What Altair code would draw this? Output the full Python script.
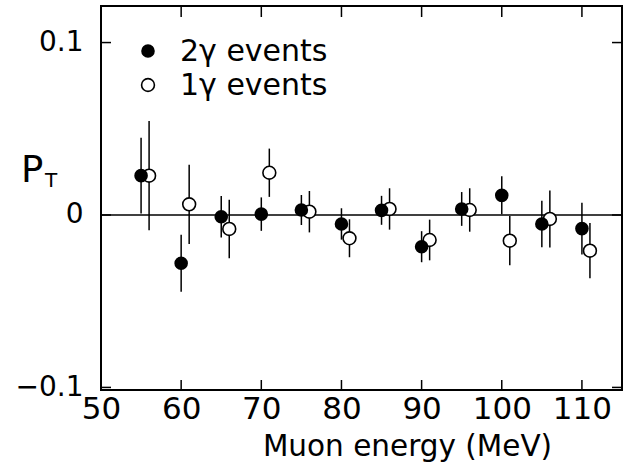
import altair as alt
import pandas as pd

# ---- data ----
energy_2g = [55, 60, 65, 70, 75, 80, 85, 90, 95, 100, 105, 110]
pt_2g = [0.0228, -0.0280, -0.0010, 0.0005, 0.0029, -0.0052, 0.0027, -0.0184, 0.0035, 0.0114, -0.0052, -0.0079]
err_2g = [0.0220, 0.0165, 0.0120, 0.0097, 0.0087, 0.0091, 0.0084, 0.0090, 0.0098, 0.0110, 0.0135, 0.0150]

energy_1g = [56, 61, 66, 71, 76, 81, 86, 91, 96, 101, 106, 111]
pt_1g = [0.0228, 0.0062, -0.0081, 0.0245, 0.0019, -0.0135, 0.0035, -0.0145, 0.0029, -0.0149, -0.0023, -0.0207]
err_1g = [0.0317, 0.0230, 0.0170, 0.0140, 0.0120, 0.0110, 0.0120, 0.0118, 0.0126, 0.0143, 0.0165, 0.0160]

x_ticks = [50, 60, 70, 80, 90, 100, 110]
y_ticks = [-0.1, 0.0, 0.1]
legend_labels = ["2\u03b3 events", "1\u03b3 events"]
x_title = "Muon energy (MeV)"
y_title_main = "P"
y_title_sub = "T"

FONT = "DejaVu Sans"
W, H = 521, 384

df2 = pd.DataFrame({"energy": energy_2g, "pt": pt_2g})
df2["lo"] = df2["pt"] - pd.Series(err_2g)
df2["hi"] = df2["pt"] + pd.Series(err_2g)
df1 = pd.DataFrame({"energy": energy_1g, "pt": pt_1g})
df1["lo"] = df1["pt"] - pd.Series(err_1g)
df1["hi"] = df1["pt"] + pd.Series(err_1g)

xs = alt.Scale(domain=[50, 115], nice=False, zero=False)
ys = alt.Scale(domain=[-0.1015, 0.1212], nice=False, zero=False)

x_axis = alt.Axis(values=x_ticks, domain=False, ticks=False, grid=False,
                  labelFontSize=31, labelPadding=4, labelFont=FONT,
                  labelFlush=False, labelOverlap=False,
                  title=x_title, titleFontSize=29.5, titleFont=FONT,
                  titleFontWeight="normal", titleX=306, titleY=65,
                  titleAlign="center", titleBaseline="alphabetic")
y_axis = alt.Axis(values=y_ticks, domain=False, ticks=False, grid=False,
                  labelFontSize=28, labelPadding=18, labelFont=FONT,
                  labelFlush=False, labelOverlap=False,
                  labelExpr="datum.value == 0 ? '0' : format(datum.value, '.1f')",
                  title=None)

def X(field):
    return alt.X(field, type="quantitative", scale=xs, axis=x_axis, title=x_title)

def Y(field):
    return alt.Y(field, type="quantitative", scale=ys, axis=y_axis)

zero_line = alt.Chart(pd.DataFrame({"z": [0.0]})).mark_rule(
    color="black", strokeWidth=1.5).encode(y=Y("z"))

bars2 = alt.Chart(df2).mark_rule(color="black", strokeWidth=1.5).encode(
    x=X("energy"), y=Y("lo"), y2="hi")
bars1 = alt.Chart(df1).mark_rule(color="black", strokeWidth=1.5).encode(
    x=X("energy"), y=Y("lo"), y2="hi")

pts1 = alt.Chart(df1).mark_circle(size=165, fill="white", stroke="black",
                                  strokeWidth=1.6, opacity=1).encode(
    x=X("energy"), y=Y("pt"))
pts2 = alt.Chart(df2).mark_circle(size=185, color="black", opacity=1).encode(
    x=X("energy"), y=Y("pt"))

# inward ticks on all four sides
xt = pd.DataFrame({"v": x_ticks})
yt = pd.DataFrame({"v": y_ticks})
tick_b = alt.Chart(xt).mark_rule(color="black", strokeWidth=1.5).encode(
    x=X("v"), y=alt.value(H), y2=alt.value(H - 10))
tick_t = alt.Chart(xt).mark_rule(color="black", strokeWidth=1.5).encode(
    x=X("v"), y=alt.value(0), y2=alt.value(11))
tick_l = alt.Chart(yt).mark_rule(color="black", strokeWidth=1.5).encode(
    y=Y("v"), x=alt.value(0), x2=alt.value(10))
tick_r = alt.Chart(yt).mark_rule(color="black", strokeWidth=1.5).encode(
    y=Y("v"), x=alt.value(W), x2=alt.value(W - 10))

# legend (inside, top-left)
leg_fill = alt.Chart(pd.DataFrame({"label": [legend_labels[0]]})).mark_circle(
    size=185, color="black", opacity=1).encode(x=alt.value(47), y=alt.value(45))
leg_open = alt.Chart(pd.DataFrame({"label": [legend_labels[1]]})).mark_circle(
    size=165, fill="white", stroke="black", strokeWidth=1.6, opacity=1).encode(
    x=alt.value(47), y=alt.value(79))
leg_t1 = alt.Chart(pd.DataFrame({"label": [legend_labels[0]]})).mark_text(
    align="left", baseline="middle", fontSize=30, font=FONT, color="black").encode(
    text="label:N", x=alt.value(79), y=alt.value(46))
leg_t2 = alt.Chart(pd.DataFrame({"label": [legend_labels[1]]})).mark_text(
    align="left", baseline="middle", fontSize=30, font=FONT, color="black").encode(
    text="label:N", x=alt.value(79), y=alt.value(80))

# y-axis title P_T
ytitle_p = alt.Chart(pd.DataFrame({"t": [y_title_main]})).mark_text(
    align="left", baseline="alphabetic", fontSize=37, font=FONT, color="black").encode(
    text="t:N", x=alt.value(-80), y=alt.value(176))
ytitle_s = alt.Chart(pd.DataFrame({"t": [y_title_sub]})).mark_text(
    align="left", baseline="alphabetic", fontSize=20, font=FONT, color="black").encode(
    text="t:N", x=alt.value(-56), y=alt.value(181))

chart = alt.layer(
    zero_line, bars2, bars1, pts1, pts2,
    tick_b, tick_t, tick_l, tick_r,
    leg_fill, leg_open, leg_t1, leg_t2, ytitle_p, ytitle_s
).properties(
    width=W, height=H,
    autosize=alt.AutoSizeParams(type="none"),
    padding={"left": 101, "top": 6, "right": 10, "bottom": 74},
    background="white"
).configure_view(
    stroke="black", strokeWidth=2
).configure_axis(
    labelColor="black", titleColor="black"
)

chart.save("out.html", embed_options={"renderer": "svg", "actions": False})
